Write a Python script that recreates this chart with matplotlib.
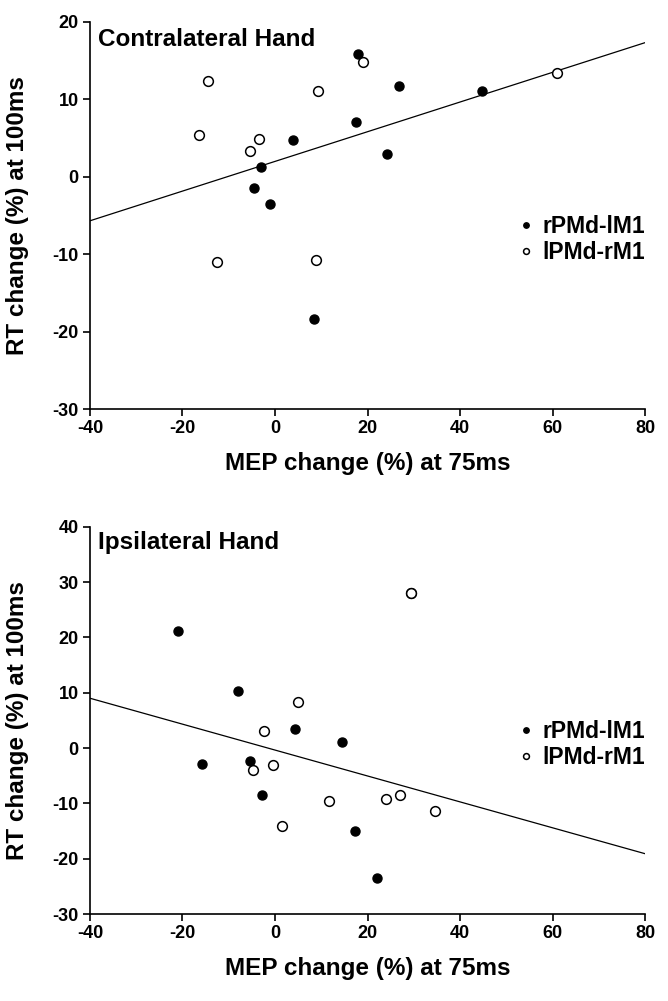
import numpy as np
import matplotlib.pyplot as plt

plt.rcParams['font.family'] = ['Liberation Sans', 'DejaVu Sans']
plt.rcParams['font.weight'] = 'bold'
plt.rcParams['axes.unicode_minus'] = False

# contralateral hand (top)
top_filled_x = [18.0, 26.9, 44.7, 17.5, 3.9, 24.2, -3.1, -4.5, -1.1, 8.5]
top_filled_y = [15.8, 11.7, 11.0, 7.0, 4.7, 2.9, 1.2, -1.5, -3.5, -18.4]
top_open_x = [19.0, -14.5, 9.3, 60.9, -16.4, -3.4, -5.5, -12.5, 8.9]
top_open_y = [14.8, 12.3, 11.1, 13.4, 5.4, 4.8, 3.3, -11.0, -10.7]
top_line_x = [-40, 80]
top_line_y = [-5.7, 17.3]

# ipsilateral hand (bottom)
bot_filled_x = [-21.0, -7.9, 4.3, 14.4, -15.7, -5.4, -2.9, 17.2, 22.0]
bot_filled_y = [21.1, 10.3, 3.5, 1.1, -2.8, -2.3, -8.4, -15.0, -23.5]
bot_open_x = [29.35, 29.4, 4.9, -2.4, -0.4, -4.8, 11.6, 23.9, 27.0, 34.5, 1.5]
bot_open_y = [28.0, 28.1, 8.4, 3.0, -3.1, -3.9, -9.5, -9.2, -8.5, -11.4, -14.1]
bot_line_x = [-40, 80]
bot_line_y = [9.0, -19.1]

xticks = [-40, -20, 0, 20, 40, 60, 80]
top_yticks = [-30, -20, -10, 0, 10, 20]
bot_yticks = [-30, -20, -10, 0, 10, 20, 30, 40]

fig = plt.figure(figsize=(6.68, 10.01), dpi=100)
ax1 = fig.add_axes([0.1347, 0.5914, 0.831, 0.3869])
ax2 = fig.add_axes([0.1347, 0.0869, 0.831, 0.3869])

panels = [
    (ax1, top_filled_x, top_filled_y, top_open_x, top_open_y, top_line_x, top_line_y,
     top_yticks, 'Contralateral Hand', 0.954),
    (ax2, bot_filled_x, bot_filled_y, bot_open_x, bot_open_y, bot_line_x, bot_line_y,
     bot_yticks, 'Ipsilateral Hand', 0.958),
]

for ax, fx, fy, ox, oy, lx, ly, yt, title, ty in panels:
    ax.plot(lx, ly, color='black', lw=0.9, zorder=1)
    ax.plot(fx, fy, 'o', color='black', ms=6.5, mec='black', label='rPMd-lM1', zorder=3)
    ax.plot(ox, oy, 'o', mfc='white', mec='black', ms=7, mew=1.1, label='lPMd-rM1', zorder=3)

    ax.set_xlim(-40, 80)
    ax.set_ylim(yt[0], yt[-1])
    ax.set_xticks(xticks)
    ax.set_yticks(yt)
    ax.spines['top'].set_visible(False)
    ax.spines['right'].set_visible(False)
    ax.spines['left'].set_linewidth(1.2)
    ax.spines['bottom'].set_linewidth(1.2)
    ax.tick_params(direction='out', length=5, width=1.2, labelsize=13, pad=3)

    ax.set_xlabel('MEP change (%) at 75ms', fontsize=17.5, fontweight='bold')
    ax.set_ylabel('RT change (%) at 100ms', fontsize=17.5, fontweight='bold')
    ax.xaxis.set_label_coords(0.5, -0.112)
    ax.yaxis.set_label_coords(-0.11, 0.5)

    ax.text(0.015, ty, title, transform=ax.transAxes, fontsize=17.5,
            fontweight='bold', va='center', ha='left')

    leg = ax.legend(loc='center right', bbox_to_anchor=(1.0, 0.438), frameon=False,
                    fontsize=16.5, markerscale=0.6, handlelength=0.6,
                    handletextpad=0.4, borderaxespad=0, borderpad=0, labelspacing=0.15)

plt.savefig('out.png', dpi=100)
